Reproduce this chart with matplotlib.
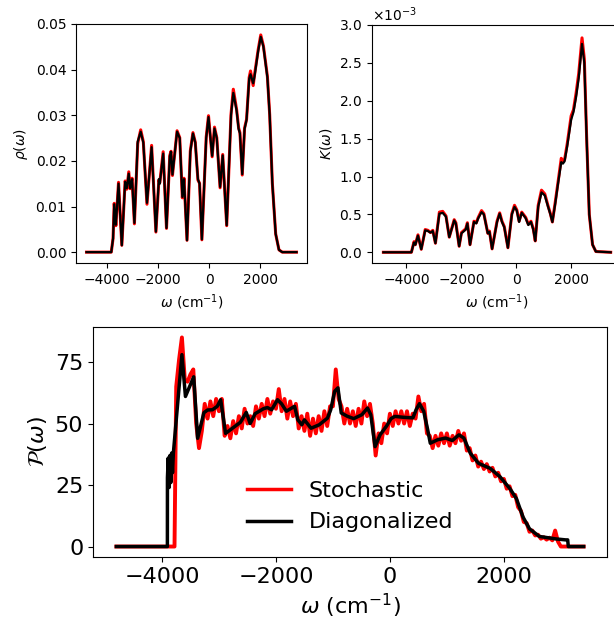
import numpy as np
import matplotlib
matplotlib.use('Agg')
import matplotlib.pyplot as plt

# rho(omega): density of states
omega_rho = [-4800, -3830, -3760, -3715, -3650, -3546, -3417, -3287, -3222, -3145, -3093, -3015,
             -2924, -2795, -2678, -2575, -2432, -2250, -2082, -1966, -1930, -1797, -1667, -1538,
             -1490, -1434, -1253, -1149, -1046, -981, -864, -734, -631, -540, -436, -372, -281,
             -112, -22, 121, 212, 302, 432, 535, 691, 860, 950, 1080, 1158, 1209, 1300, 1391,
             1469, 1572, 1624, 1728, 1780, 1922, 2025, 2129, 2285, 2375, 2479, 2609, 2738, 2868, 3425]
rho_diag = [0, 0, 0.003, 0.0105, 0.006, 0.015, 0.0015, 0.0154, 0.014, 0.0172, 0.014, 0.016,
            0.0064, 0.0242, 0.0264, 0.024, 0.0108, 0.023, 0.0045, 0.016, 0.015, 0.0216, 0.0053, 0.021,
            0.022, 0.017, 0.0264, 0.025, 0.0121, 0.016, 0.0026, 0.022, 0.026, 0.024, 0.016, 0.015, 0.0028,
            0.025, 0.0296, 0.0211, 0.0271, 0.025, 0.0143, 0.0212, 0.0059, 0.03, 0.0349, 0.031, 0.027, 0.026,
            0.0171, 0.027, 0.029, 0.038, 0.039, 0.037, 0.0385, 0.044, 0.0472, 0.045, 0.0383, 0.03, 0.015,
            0.004, 0.0005, 0, 0]
rho_stoch = [0, 0, 0.003, 0.0107, 0.0058, 0.0153, 0.0015, 0.0156, 0.0138, 0.0176, 0.0139, 0.0162,
             0.0062, 0.0238, 0.0268, 0.0242, 0.0105, 0.0234, 0.0044, 0.0158, 0.0152, 0.022, 0.0052, 0.0212,
             0.0221, 0.0168, 0.0266, 0.0251, 0.0119, 0.0162, 0.0026, 0.0222, 0.0262, 0.0241, 0.0158, 0.0151, 0.0027,
             0.0252, 0.0299, 0.0209, 0.0274, 0.0251, 0.0141, 0.0214, 0.0058, 0.0302, 0.0357, 0.0312, 0.0272, 0.0262,
             0.0169, 0.0272, 0.0291, 0.0383, 0.0397, 0.0365, 0.0388, 0.0443, 0.0476, 0.0452, 0.0385, 0.0301, 0.0151,
             0.004, 0.0005, 0, 0]

# K(omega), in units of 1e-3
omega_k = [-4840, -3820, -3724, -3676, -3580, -3460, -3316, -3220, -3124, -3040, -2944, -2800, -2680,
           -2560, -2440, -2260, -2200, -2080, -1996, -1840, -1780, -1684, -1540, -1456, -1384, -1264,
           -1180, -1036, -976, -880, -700, -604, -520, -436, -304, -160, -64, 20, 104, 200, 344, 440,
           536, 620, 692, 800, 920, 1040, 1160, 1244, 1316, 1424, 1520, 1640, 1700, 1760, 1856, 2000,
           2084, 2180, 2276, 2396, 2480, 2564, 2660, 2780, 2900, 3440]
k_diag = [0, 0, 0.13, 0.1, 0.22, 0.04, 0.29, 0.28, 0.26, 0.28, 0.12, 0.51, 0.52,
          0.47, 0.2, 0.42, 0.38, 0.08, 0.25, 0.3, 0.38, 0.1, 0.4, 0.38, 0.45, 0.53,
          0.5, 0.25, 0.27, 0.045, 0.4, 0.51, 0.4, 0.33, 0.06, 0.5, 0.6, 0.55, 0.4, 0.52, 0.45, 0.36,
          0.4, 0.3, 0.15, 0.6, 0.79, 0.75, 0.6, 0.5, 0.4, 0.65, 0.9, 1.19, 1.17, 1.2, 1.4, 1.75,
          1.85, 2.05, 2.3, 2.75, 2.5, 1.5, 0.5, 0.1, 0.01, 0]
k_stoch = [0, 0, 0.14, 0.1, 0.23, 0.04, 0.3, 0.29, 0.26, 0.29, 0.12, 0.53, 0.54,
           0.48, 0.2, 0.43, 0.39, 0.08, 0.26, 0.31, 0.39, 0.1, 0.41, 0.39, 0.46, 0.55,
           0.51, 0.25, 0.28, 0.045, 0.41, 0.52, 0.41, 0.34, 0.06, 0.51, 0.62, 0.56, 0.41, 0.53, 0.46, 0.37,
           0.41, 0.31, 0.15, 0.62, 0.82, 0.77, 0.61, 0.51, 0.4, 0.67, 0.92, 1.24, 1.2, 1.22, 1.43, 1.8,
           1.88, 2.1, 2.36, 2.83, 2.55, 1.52, 0.5, 0.1, 0.01, 0]

# P(omega), diagonalized
omega_p = [-4800, -3905, -3904, -3890, -3875, -3860, -3845, -3830, -3815, -3800, -3650, -3588,
           -3443, -3374, -3264, -3200, -3114, -3030, -2970, -2884, -2797, -2624, -2521, -2452,
           -2365, -2221, -2150, -2076, -1972, -1900, -1817, -1673, -1615, -1546, -1500, -1384,
           -1240, -1096, -1039, -969, -912, -854, -751, -635, -491, -393, -336, -260, -173, -58,
           20, 87, 250, 403, 460, 519, 593, 663, 709, 836, 979, 1095, 1211, 1298, 1412, 1557,
           1758, 1931, 2104, 2220, 2336, 2450, 2623, 2912, 3085, 3120, 3131, 3400]
p_diag = [0, 0, 28, 36, 24, 37, 26, 38, 30, 38, 78, 61,
          69, 44, 54.4, 55.5, 55.6, 57, 59.7, 46, 47.5, 50.5, 54.5, 50,
          54, 56, 56.5, 55.6, 59.7, 58, 55, 57, 51.5, 49.5, 51.5, 48.1,
          49.5, 52.2, 55.6, 63.1, 64.5, 54.3, 53, 52, 53.6, 56.3, 53.6, 40.6, 45.4, 49,
          52, 52.9, 52.5, 52.3, 55.6, 58.1, 55, 47.5, 42, 43.4, 44.1, 43.1, 45.4, 44.1, 37.9, 33.8,
          31.8, 28.4, 23.6, 19.5, 12, 7.2, 4.1, 3.1, 2.7, 2.7, 0, 0]

# P(omega), stochastic (sampled every 50 cm^-1 from -3750 to 3000)
omega_ps = [-4800, -3780] + list(range(-3750, 3001, 50)) + [3400]
p_stoch = [0, 0,
           65, 76, 85, 68, 67, 70, 72, 50, 40, 47,
           58, 52, 59, 53, 60, 55, 60, 45, 49, 44,
           51, 46, 53, 48, 56, 50, 53, 49, 57, 52,
           58, 53, 60, 54, 59, 56, 64, 55, 60, 52,
           59, 53, 58, 48, 53, 47, 54, 45, 52, 46,
           53, 47, 55, 49, 57, 57, 72, 60, 57, 50,
           56, 50, 55, 49, 56, 50, 59, 53, 58, 50,
           37, 46, 42, 50, 46, 54, 49, 55, 50, 55,
           50, 55, 49, 54, 52, 61, 55, 58, 46, 45,
           40, 45, 41, 46, 42, 46, 41, 45, 42, 47,
           43, 46, 39, 40, 35, 37, 32.5, 34.5, 31.5, 33.5,
           30.5, 32, 28.5, 30, 26.5, 27.5, 23.5, 24.5, 20.5, 21,
           16, 14.5, 10, 9.5, 6, 6.5, 4.5, 4.8, 3.2, 3.8,
           2.8, 3.6, 2.5, 6.5, 2.0, 0,
           0]

fig = plt.figure(figsize=(6.14, 6.31), dpi=100)

ax1 = fig.add_axes([0.1238, 0.5832, 0.3762, 0.3788])
ax1.plot(omega_rho, rho_stoch, '-', color='red', lw=2.2)
ax1.plot(omega_rho, rho_diag, '-', color='black', lw=1.6)
ax1.set_ylabel(r'$\rho(\omega)$', fontsize=10)
ax1.set_xlabel(r'$\omega$ (cm$^{-1}$)', fontsize=10)
ax1.set_yticks([0, 0.01, 0.02, 0.03, 0.04, 0.05])
ax1.set_xticks([-4000, -2000, 0, 2000])
ax1.tick_params(labelsize=10)

ax2 = fig.add_axes([0.6059, 0.5832, 0.4072, 0.3772])
ax2.plot(omega_k, np.array(k_stoch) * 1e-3, '-', color='red', lw=2.2)
ax2.plot(omega_k, np.array(k_diag) * 1e-3, '-', color='black', lw=1.6)
ax2.set_ylabel(r'$K(\omega)$', fontsize=10)
ax2.set_xlabel(r'$\omega$ (cm$^{-1}$)', fontsize=10)
ax2.set_xticks([-4000, -2000, 0, 2000])
ax2.set_yticks(np.array([0, 0.5, 1.0, 1.5, 2.0, 2.5, 3.0]) * 1e-3)
ax2.ticklabel_format(axis='y', style='sci', scilimits=(0, 0), useMathText=True)
ax2.tick_params(labelsize=10)
ax2.yaxis.get_offset_text().set_fontsize(10)

ax3 = fig.add_axes([0.1515, 0.1173, 0.8371, 0.3645])
ax3.plot(omega_ps, p_stoch, '-', color='red', lw=2.8, label='Stochastic')
ax3.plot(omega_p, p_diag, '-', color='black', lw=2.5, label='Diagonalized')
ax3.set_ylabel(r'$\mathcal{P}(\omega)$', fontsize=16)
ax3.set_xlabel(r'$\omega$ (cm$^{-1}$)', fontsize=16)
ax3.set_xticks([-4000, -2000, 0, 2000])
ax3.set_yticks([0, 25, 50, 75])
ax3.tick_params(labelsize=16)
leg = ax3.legend(loc='lower center', bbox_to_anchor=(0.5, 0.02), frameon=False, fontsize=16)
leg.get_lines()[0].set_linewidth(2.5)

plt.savefig('out.png', dpi=100)
